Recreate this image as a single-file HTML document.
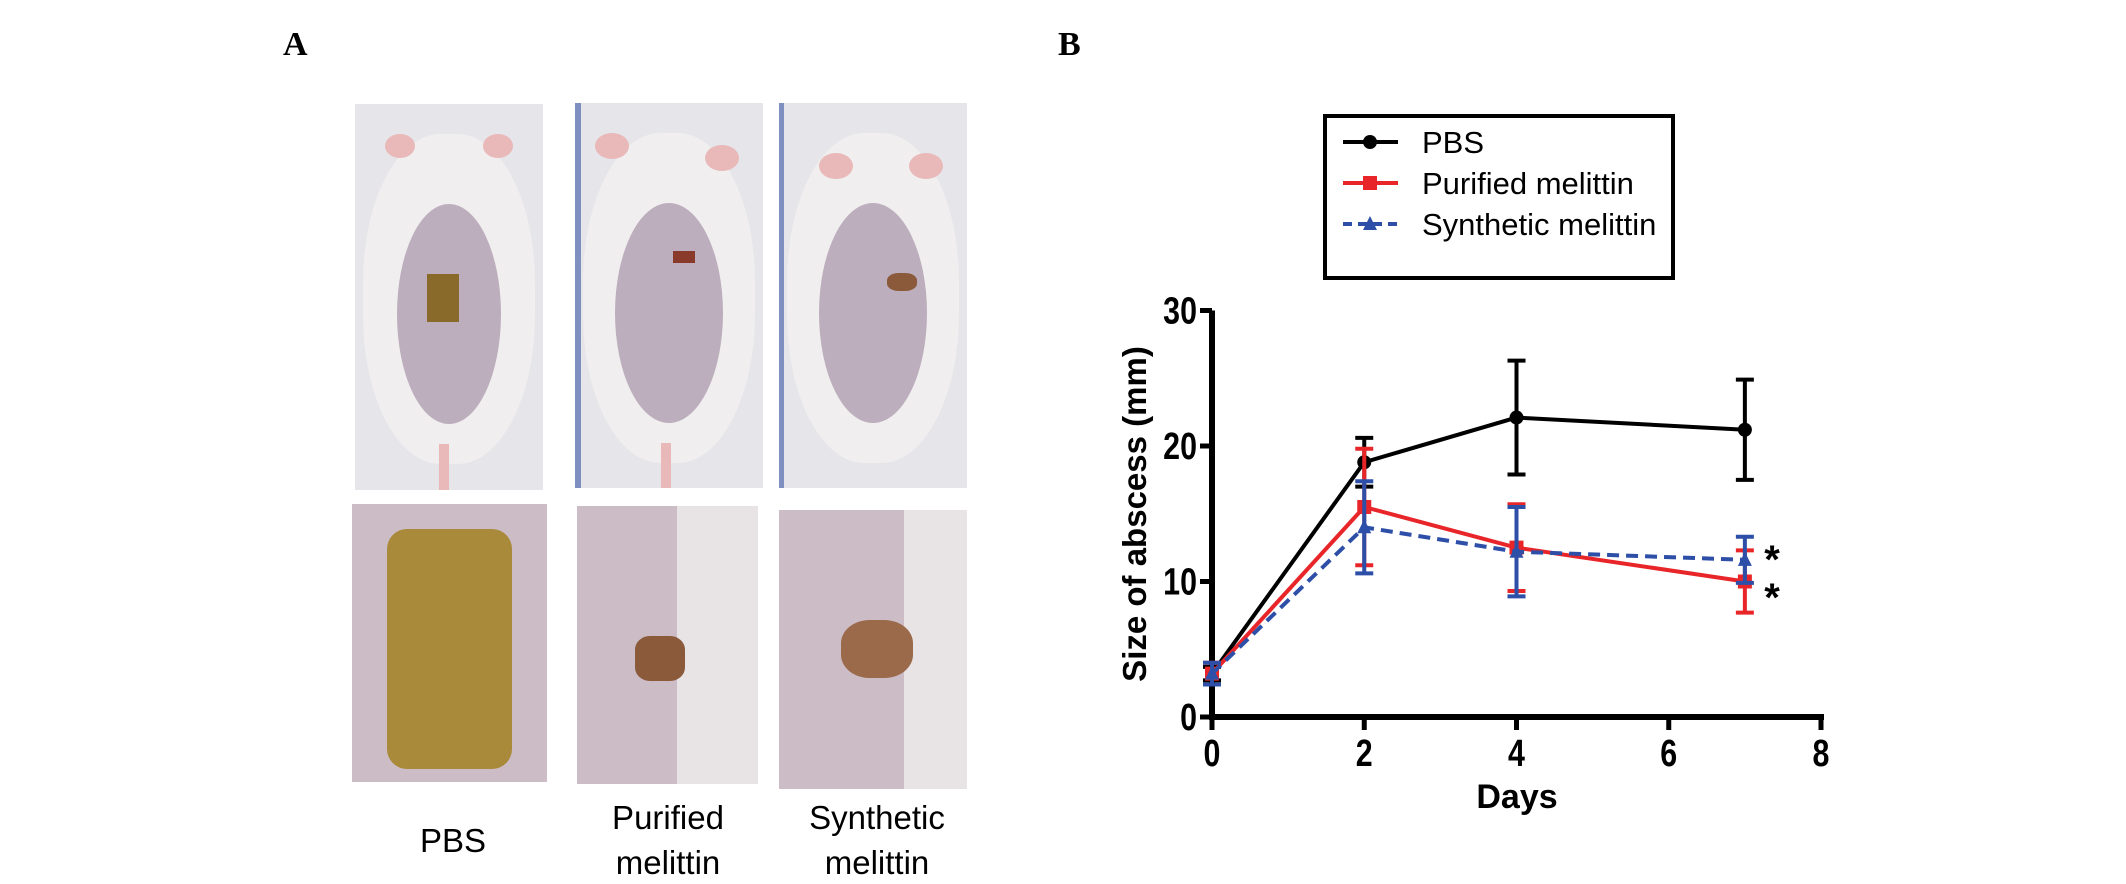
<!DOCTYPE html>
<html><head><meta charset="utf-8"><style>
body{margin:0;background:#fff;}
#root{position:relative;width:2126px;height:884px;overflow:hidden;background:#fff;font-family:"Liberation Sans",Arial,sans-serif;}
.panel-letter{position:absolute;font-family:"Liberation Serif",serif;font-weight:bold;font-size:34px;}
.photo{position:absolute;overflow:hidden;}
.cap{position:absolute;font-size:33px;text-align:center;line-height:45px;transform:translateX(-50%);}
</style></head><body>
<div id="root">
<div class="panel-letter" style="left:283px;top:26px">A</div>
<div class="panel-letter" style="left:1058px;top:26px">B</div>

<div class="photo" style="left:355px;top:104px;width:188px;height:386px;background:#e6e6ea">
 <div style="position:absolute;left:8px;top:30px;width:172px;height:330px;border-radius:45%;background:#f0eeee"></div>
 <div style="position:absolute;left:30px;top:30px;width:30px;height:24px;border-radius:50%;background:#e9b8b8"></div>
 <div style="position:absolute;left:128px;top:30px;width:30px;height:24px;border-radius:50%;background:#e9b8b8"></div>
 <div style="position:absolute;left:42px;top:100px;width:104px;height:220px;border-radius:50%;background:#bcaebd"></div>
 <div style="position:absolute;left:72px;top:170px;width:32px;height:48px;background:#8a6a2a"></div>
 <div style="position:absolute;left:84px;top:340px;width:10px;height:46px;background:#e9b8b8"></div>
</div>
<div class="photo" style="left:575px;top:103px;width:188px;height:385px;background:#e6e6ea">
 <div style="position:absolute;left:0;top:0;width:6px;height:385px;background:#7f8fc0"></div>
 <div style="position:absolute;left:8px;top:30px;width:172px;height:330px;border-radius:45%;background:#f0eeee"></div>
 <div style="position:absolute;left:20px;top:30px;width:34px;height:26px;border-radius:50%;background:#e9b8b8"></div>
 <div style="position:absolute;left:130px;top:42px;width:34px;height:26px;border-radius:50%;background:#e9b8b8"></div>
 <div style="position:absolute;left:40px;top:100px;width:108px;height:220px;border-radius:50%;background:#bcaebd"></div>
 <div style="position:absolute;left:98px;top:148px;width:22px;height:12px;background:#8a3a2a"></div>
 <div style="position:absolute;left:86px;top:340px;width:10px;height:45px;background:#e9b8b8"></div>
</div>
<div class="photo" style="left:779px;top:103px;width:188px;height:385px;background:#e6e6ea">
 <div style="position:absolute;left:0;top:0;width:5px;height:385px;background:#7f8fc0"></div>
 <div style="position:absolute;left:8px;top:30px;width:172px;height:330px;border-radius:45%;background:#f0eeee"></div>
 <div style="position:absolute;left:40px;top:50px;width:34px;height:26px;border-radius:50%;background:#e9b8b8"></div>
 <div style="position:absolute;left:130px;top:50px;width:34px;height:26px;border-radius:50%;background:#e9b8b8"></div>
 <div style="position:absolute;left:40px;top:100px;width:108px;height:220px;border-radius:50%;background:#bcaebd"></div>
 <div style="position:absolute;left:108px;top:170px;width:30px;height:18px;background:#8a5a3a;border-radius:40%"></div>
</div>
<div class="photo" style="left:352px;top:504px;width:195px;height:278px;background:#cbbcc6">
 <div style="position:absolute;left:35px;top:25px;width:125px;height:240px;border-radius:20px;background:#a88a3a"></div>
</div>
<div class="photo" style="left:577px;top:506px;width:181px;height:278px;background:#cbbcc6">
 <div style="position:absolute;left:100px;top:0;width:81px;height:278px;background:#e8e4e6"></div>
 <div style="position:absolute;left:58px;top:130px;width:50px;height:45px;border-radius:30%;background:#8a5a3a"></div>
</div>
<div class="photo" style="left:779px;top:510px;width:188px;height:279px;background:#cbbcc6">
 <div style="position:absolute;left:125px;top:0;width:63px;height:279px;background:#e8e4e6"></div>
 <div style="position:absolute;left:62px;top:110px;width:72px;height:58px;border-radius:40%;background:#9a6a4a"></div>
</div>
<div class="cap" style="left:453px;top:818px">PBS</div>
<div class="cap" style="left:668px;top:795px">Purified<br>melittin</div>
<div class="cap" style="left:877px;top:795px">Synthetic<br>melittin</div>

<svg id="chart" width="2126" height="884" style="position:absolute;left:0;top:0"></svg>
</div>
<script>
const days=[0,2,4,7];
const pbs=[3.2,18.8,22.1,21.2];
const pbsErr=[0.5,1.8,4.2,3.7];
const purified=[3.2,15.5,12.5,10.0];
const purifiedErr=[0.8,4.3,3.2,2.3];
const synthetic=[3.2,14.0,12.2,11.6];
const syntheticErr=[0.8,3.4,3.3,1.7];
const xTicks=[0,2,4,6,8];
const yTicks=[0,10,20,30];
const NS='http://www.w3.org/2000/svg';
const svg=document.getElementById('chart');
const X=v=>1212+v*(1821-1212)/8;
const Y=v=>717-v*(717-310.5)/30;
function mk(t,a,p){const e=document.createElementNS(NS,t);for(const k in a)e.setAttribute(k,a[k]);(p||svg).appendChild(e);return e;}
let ax=mk('line',{x1:1212,y1:Y(30),x2:1212,y2:Y(0)+2,stroke:'#000','stroke-width':6});


let ax2=mk('line',{x1:1209,y1:Y(0),x2:X(8)+3,y2:Y(0),stroke:'#000','stroke-width':6});


yTicks.forEach(v=>{
 mk('line',{x1:1200,y1:Y(v),x2:1212,y2:Y(v),stroke:'#000','stroke-width':5});
 const t=mk('text',{x:1197,y:Y(v)+13,'text-anchor':'end','font-size':38,'font-weight':'bold','font-family':'Liberation Sans, sans-serif',transform:`translate(${1197},0) scale(0.8,1) translate(${-1197},0)`});
 t.textContent=v;
 
 
});
xTicks.forEach(v=>{
 mk('line',{x1:X(v),y1:Y(0),x2:X(v),y2:Y(0)+13,stroke:'#000','stroke-width':5});
 const t=mk('text',{x:X(v),y:766,'text-anchor':'middle','font-size':38,'font-weight':'bold','font-family':'Liberation Sans, sans-serif',transform:`translate(${X(v)},0) scale(0.8,1) translate(${-X(v)},0)`});
 t.textContent=v;
 
 
});
let xt=mk('text',{x:1517,y:808,'text-anchor':'middle','font-size':34,'font-weight':'bold','font-family':'Liberation Sans, sans-serif'});
xt.textContent='Days';


let yt=mk('text',{x:0,y:0,'text-anchor':'middle','font-size':33,'font-weight':'bold','font-family':'Liberation Sans, sans-serif',transform:'translate(1146,514) rotate(-90)'});
yt.textContent='Size of abscess (mm)';


function series(vals,errs,color,dash,marker,name){
 const g=mk('g',{});
 
 
 days.forEach((d,i)=>{
  mk('line',{x1:X(d),y1:Y(vals[i]-errs[i]),x2:X(d),y2:Y(vals[i]+errs[i]),stroke:color,'stroke-width':4},g);
  [vals[i]-errs[i],vals[i]+errs[i]].forEach(v=>mk('line',{x1:X(d)-9,x2:X(d)+9,y1:Y(v),y2:Y(v),stroke:color,'stroke-width':4},g));
 });
 mk('polyline',{points:days.map((d,i)=>X(d)+','+Y(vals[i])).join(' '),fill:'none',stroke:color,'stroke-width':4,'stroke-dasharray':dash||''},g);
 days.forEach((d,i)=>drawMarker(g,marker,X(d),Y(vals[i]),color));
}
function drawMarker(g,m,x,y,c){
 if(m==='c')mk('circle',{cx:x,cy:y,r:7,fill:c},g);
 else if(m==='s')mk('rect',{x:x-7,y:y-7,width:14,height:14,fill:c},g);
 else mk('polygon',{points:`${x},${y-8} ${x-7},${y+6} ${x+7},${y+6}`,fill:c},g);
}
series(pbs,pbsErr,'#000',null,'c','series-pbs');
series(purified,purifiedErr,'#e8262a',null,'s','series-purified');
series(synthetic,syntheticErr,'#2e4fa8','12 7','t','series-synthetic');
[[555],[593]].forEach(([y])=>{const a=mk('text',{x:1772,y:y+18,'text-anchor':'middle','font-size':40,'font-weight':'bold','font-family':'Liberation Sans, sans-serif'});a.textContent='*';

});
const lg=mk('g',{});


mk('rect',{x:1325,y:116,width:348,height:162,fill:'#fff',stroke:'#000','stroke-width':4},lg);
const legNames=['PBS','Purified melittin','Synthetic melittin'];
const legCol=['#000','#e8262a','#2e4fa8'];
const legDash=['','','9 6'];
const legM=['c','s','t'];
legNames.forEach((n,i)=>{
 const y=142+i*41;
 mk('line',{x1:1343,x2:1398,y1:y,y2:y,stroke:legCol[i],'stroke-width':4,'stroke-dasharray':legDash[i]},lg);
 drawMarker(lg,legM[i],1370,y,legCol[i]);
 const t=mk('text',{x:1422,y:y+11,'font-size':31,'font-family':'Liberation Sans, sans-serif'},lg);
 t.textContent=n;
 
 
});
</script>
</body></html>
